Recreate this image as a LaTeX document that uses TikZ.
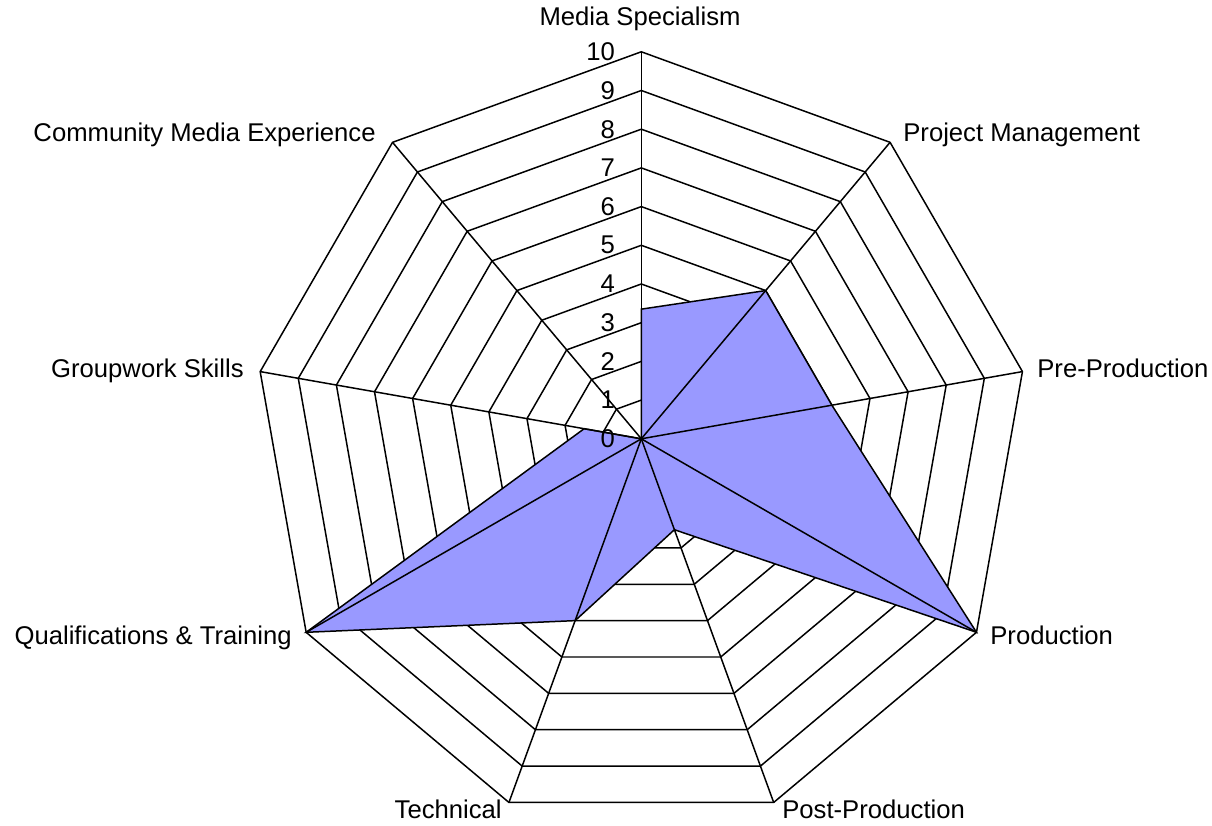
\documentclass[tikz,border=0pt]{standalone}
\usepackage{fontspec}
\setmainfont{Liberation Sans}
\definecolor{datafill}{RGB}{153,153,255}
\begin{document}
\begin{tikzpicture}[x=0.02cm,y=0.02cm,
  grid/.style={line width=0.85pt,black},
  lbl/.style={font=\fontsize{14.6}{17}\selectfont, inner sep=0pt},
  tick/.style={font=\fontsize{14.6}{17}\selectfont, inner sep=0pt, anchor=east}]
\useasboundingbox (0,0) rectangle (1212,825);
\coordinate (C) at (641.3,386.2);
\begin{scope}[shift={(641.3,386.2)}]
  % rings
  \foreach \k in {1,...,10}{
    \pgfmathsetmacro{\r}{\k*38.7}
    \draw[grid] (90:\r) -- (50:\r) -- (10:\r) -- (-30:\r) -- (-70:\r) -- (-110:\r) -- (-150:\r) -- (170:\r) -- (130:\r) -- cycle;
  }
  % data points
  \coordinate (d1) at (90:3.35*38.7);
  \coordinate (d2) at (50:5*38.7);
  \coordinate (d3) at (10:5*38.7);
  \coordinate (d4) at (-30:10*38.7);
  \coordinate (d5) at (-70:2.5*38.7);
  \coordinate (d6) at (-110:5*38.7);
  \coordinate (d7) at (-150:10*38.7);
  \coordinate (d8) at (170:1.5*38.7);
  \coordinate (d9) at (130:0);
  \fill[datafill] (d1) -- (d2) -- (d3) -- (d4) -- (d5) -- (d6) -- (d7) -- (d8) -- (d9) -- cycle;
  % spokes
  \foreach \a in {90,50,10,-30,-70,-110,-150,170,130}
    \draw[grid] (0,0) -- (\a:387);
  % data outline
  \draw[grid] (d1) -- (d2) -- (d3) -- (d4) -- (d5) -- (d6) -- (d7) -- (d8) -- (d9) -- cycle;
  % tick labels
  \foreach \k in {0,...,10}
    \node[tick] (t\k) at (-26,\k*38.7) {\k};
\end{scope}
% axis labels
\node[lbl, anchor=base] (ms) at (640,799) {Media Specialism};
\node[lbl, anchor=base west] (pm) at (903,683) {Project Management};
\node[lbl, anchor=base west] (pre) at (1037,447) {Pre-Production};
\node[lbl, anchor=base west] (prod) at (990,181) {Production};
\node[lbl, anchor=base west] (post) at (782,7) {Post-Production};
\node[lbl, anchor=base east] (tech) at (502,7) {Technical};
\node[lbl, anchor=base east] (qt) at (292,181) {Qualifications \& Training};
\node[lbl, anchor=base east] (gs) at (244,447) {Groupwork Skills};
\node[lbl, anchor=base east] (cme) at (376,683) {Community Media Experience};
\end{tikzpicture}
\end{document}
